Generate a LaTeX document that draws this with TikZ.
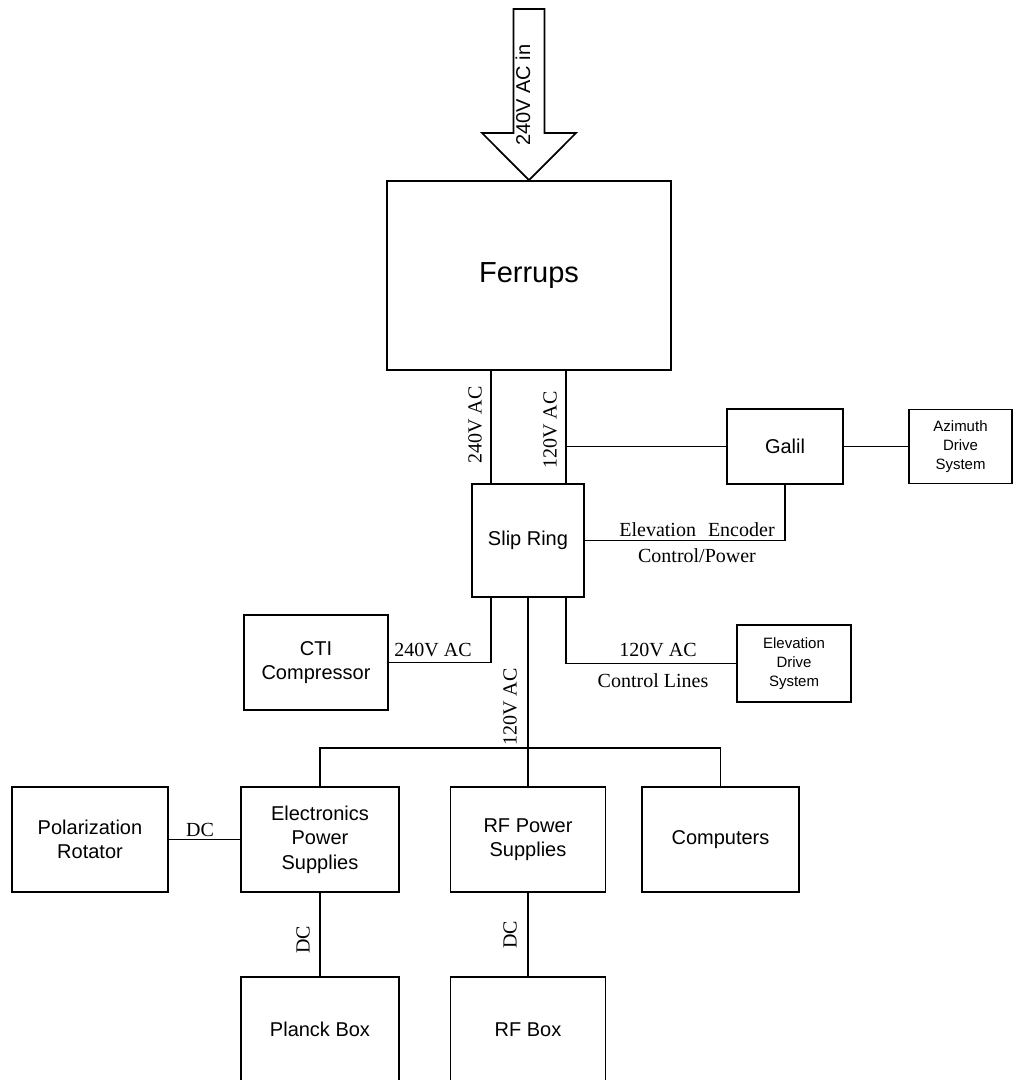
\documentclass[tikz,border=0pt]{standalone}
\usepackage{fontspec}
\setmainfont{Liberation Serif}
\setsansfont{Liberation Sans}
\begin{document}
\begin{tikzpicture}[x=1pt,y=-1pt,
  box/.style={draw, line width=1.7pt, rectangle, inner sep=0pt, align=center,
    font=\sffamily\fontsize{20}{24.5}\selectfont},
  smallbox/.style={box, font=\sffamily\fontsize{15}{19}\selectfont},
  wire/.style={line width=1.7pt},
  lbl/.style={inner sep=0pt, font=\rmfamily\fontsize{20}{24}\selectfont}]
\useasboundingbox (0,0) rectangle (1014,1080);

% boxes
\node[box, minimum width=284pt, minimum height=189pt, font=\sffamily\fontsize{29}{33}\selectfont] (ferrups) at (529,275.5) {Ferrups};
\node[box, minimum width=112pt, minimum height=113pt] (slip) at (528,540.5) {Slip Ring};
\node[box, minimum width=116pt, minimum height=75pt] (galil) at (785,446.5) {Galil};
\node[smallbox, minimum width=103pt, minimum height=74pt] (azimuth) at (960.5,446.5) {Azimuth\\Drive\\System};
\node[box, minimum width=144pt, minimum height=95pt] (cti) at (316,662.5) {CTI\\Compressor};
\node[smallbox, minimum width=114pt, minimum height=77pt] (elev) at (794,663.5) {Elevation\\Drive\\System};
\node[box, minimum width=156pt, minimum height=105pt] (polar) at (90,839.5) {Polarization\\Rotator};
\node[box, minimum width=158pt, minimum height=105pt] (elec) at (320,839.5) {Electronics\\Power\\Supplies};
\node[box, minimum width=155pt, minimum height=105pt] (rfps) at (528,839.5) {RF Power\\Supplies};
\node[box, minimum width=157pt, minimum height=105pt] (comp) at (720.5,839.5) {Computers};
\node[box, minimum width=158pt, minimum height=105pt] (planck) at (320,1029.5) {Planck Box};
\node[box, minimum width=155pt, minimum height=105pt] (rfbox) at (528,1029.5) {RF Box};

% input arrow
\coordinate (tip) at (ferrups.north);
\draw[wire, line join=miter] (513.5,9) -- (544.5,9) -- (544.5,133) -- (576,133) -- (tip) -- (482,133) -- (513.5,133) -- cycle;
\node[inner sep=0pt, rotate=90, font=\sffamily\fontsize{20}{24}\selectfont] (inlbl) at (523,95) {240V AC in};

% helper coordinates
\coordinate (xL) at (491,0);
\coordinate (xR) at (566,0);
\coordinate (bus) at (0,748);

% Ferrups to slip ring
\draw[wire] (ferrups.south -| xL) -- (slip.north -| xL);
\draw[wire] (ferrups.south -| xR) -- (slip.north -| xR);
\draw[wire] (galil.west) -- (galil.west -| xR);
\node[lbl, rotate=90] (l240a) at (475,425) {240V AC};
\node[lbl, rotate=90] (l120a) at (550,430) {120V AC};

% Galil
\draw[wire] (galil.east) -- (azimuth.west);
\draw[wire] (slip.east) -| (galil.south);
\node[lbl] (lenc) at (697,530) {Elevation\hspace{0.6em}Encoder};
\node[lbl] (lcp) at (697,556) {Control/Power};

% slip ring down
\draw[wire] (slip.south -| xL) |- (cti.east);
\node[lbl] (l240b) at (433,650) {240V AC};
\draw[wire] (slip.south -| xR) |- (elev.west);
\node[lbl] (l120c) at (658,650) {120V AC};
\node[lbl] (lcl) at (653,681) {Control Lines};
\draw[wire] (slip.south) -- (rfps.north);
\node[lbl, rotate=90] (l120b) at (510,707) {120V AC};

% bus
\draw[wire] (elec.north) -- (elec.north |- bus) -- (comp.north |- bus) -- (comp.north);

% DC links
\draw[wire] (polar.east) -- (elec.west);
\node[lbl] (ldc1) at (200,830) {DC};
\draw[wire] (elec.south) -- (planck.north);
\node[lbl, rotate=90] (ldc2) at (303,940) {DC};
\draw[wire] (rfps.south) -- (rfbox.north);
\node[lbl, rotate=90] (ldc3) at (510,935) {DC};
\end{tikzpicture}
\end{document}
